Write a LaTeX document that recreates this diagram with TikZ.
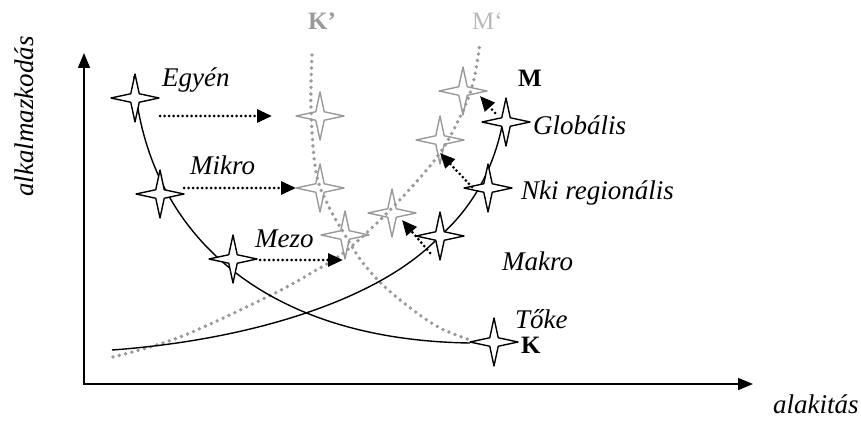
\documentclass[tikz,border=0pt]{standalone}
\usepackage{fontspec}
\setmainfont{Liberation Serif}
\usetikzlibrary{shapes.geometric,arrows.meta}

\tikzset{
  csillag/.style={star,star points=4,star point ratio=4,minimum size=48pt,inner sep=0pt,
    draw,line width=1.4pt,line join=round,fill=white},
  szcsillag/.style={csillag,draw=gray!80,line width=1.4pt,fill=none},
  gorbe/.style={line width=1.4pt},
  pontozott/.style={gray!80,line width=3.8pt,line cap=round,dash pattern=on 0pt off 6.5pt},
  nyil/.style={line width=3pt,line cap=round,dash pattern=on 0pt off 4.5pt,
    -{Triangle[length=15pt,width=13pt]}},
  felirat/.style={font=\fontsize{27}{30}\selectfont\itshape,anchor=base west,inner sep=0pt},
  betu/.style={font=\fontsize{25}{28}\selectfont\bfseries,anchor=base west,inner sep=0pt}
}

\begin{document}
\begin{tikzpicture}[x=1pt,y=-1pt]
\useasboundingbox (0,0) rectangle (861,422);

% tengelyek
\coordinate (O) at (84,384);
\coordinate (ytop) at (84,53);
\coordinate (xend) at (753,384);
\draw[line width=1.6pt,{Triangle[length=15pt,width=12pt]}-{Triangle[length=15pt,width=12pt]}]
  (ytop) -- (O) -- (xend);
\node[felirat,rotate=90] (yl) at (33,197) {alkalmazkodás};
\node[felirat] (xl) at (773,413) {alakitás};

% csillagok helye
\coordinate (egyen) at (135,98);
\coordinate (mikro) at (160,194);
\coordinate (mezo) at (233,259);
\coordinate (mak) at (440,236);
\coordinate (nki) at (488,188);
\coordinate (glob) at (506,122);
\coordinate (toke) at (494,342);

% gorbek
\draw[pontozott] plot[smooth,tension=0.6] coordinates
  {(312,55) (311,110) (316,172) (328,205) (345,235) (363,263) (385,287) (413,310) (440,328) (470,340)};
\draw[pontozott] plot[smooth,tension=0.6] coordinates
  {(113,357) (180,337) (267,297) (313,272) (347,250) (393,207) (437,157) (460,117) (473,83) (480,43)};
\draw[gorbe] (134,76) .. controls (145,230) and (260,340) .. (470,343);
\draw[gorbe] (112,350) .. controls (250,340) and (380,300) .. (mak)
  .. controls (475,205) and (500,160) .. (506,100);

% szurke csillagok
\node[szcsillag] (g1) at (320,116) {};
\node[szcsillag] (g2) at (320,188) {};
\node[szcsillag] (g3) at (345,235) {};
\node[szcsillag] (g4) at (392,213) {};
\node[szcsillag] (g5) at (440,140) {};
\node[szcsillag] (g6) at (463,91) {};

% fekete csillagok
\node[csillag] (c1) at (egyen) {};
\node[csillag] (c2) at (mikro) {};
\node[csillag] (c3) at (mezo) {};
\node[csillag] (c4) at (mak) {};
\node[csillag] (c5) at (nki) {};
\node[csillag] (c6) at (glob) {};
\node[csillag] (c7) at (toke) {};

% nyilak
\coordinate (a1) at (160,116); \coordinate (b1) at (272,116);
\coordinate (a2) at (184,188); \coordinate (b2) at (296,188);
\coordinate (a3) at (260,260); \coordinate (b3) at (343,260);
\coordinate (a4) at (430,253); \coordinate (b4) at (402,220);
\coordinate (a5) at (472,187); \coordinate (b5) at (440,153);
\coordinate (a6) at (495,113); \coordinate (b6) at (480,96);
\foreach \i in {1,...,6}
  \draw[nyil] (a\i) -- (b\i);

% feliratok
\node[felirat] (l1) at (162,87) {Egyén};
\node[felirat] (l2) at (190,175) {Mikro};
\node[felirat] (l3) at (255,247) {Mezo};
\node[felirat] (l4) at (502,270) {Makro};
\node[felirat] (l5) at (533,135) {Globális};
\node[felirat] (l6) at (521,200) {Nki regionális};
\node[felirat] (l7) at (515,328) {Tőke};
\node[betu] (K) at (521,353) {K};
\node[betu] (M) at (518,87) {M};
\node[betu,gray!80] (K2) at (308,30) {K’};
\node[betu,gray!55,font=\fontsize{25}{28}\selectfont] (M2) at (472,30) {M`};

\end{tikzpicture}
\end{document}
